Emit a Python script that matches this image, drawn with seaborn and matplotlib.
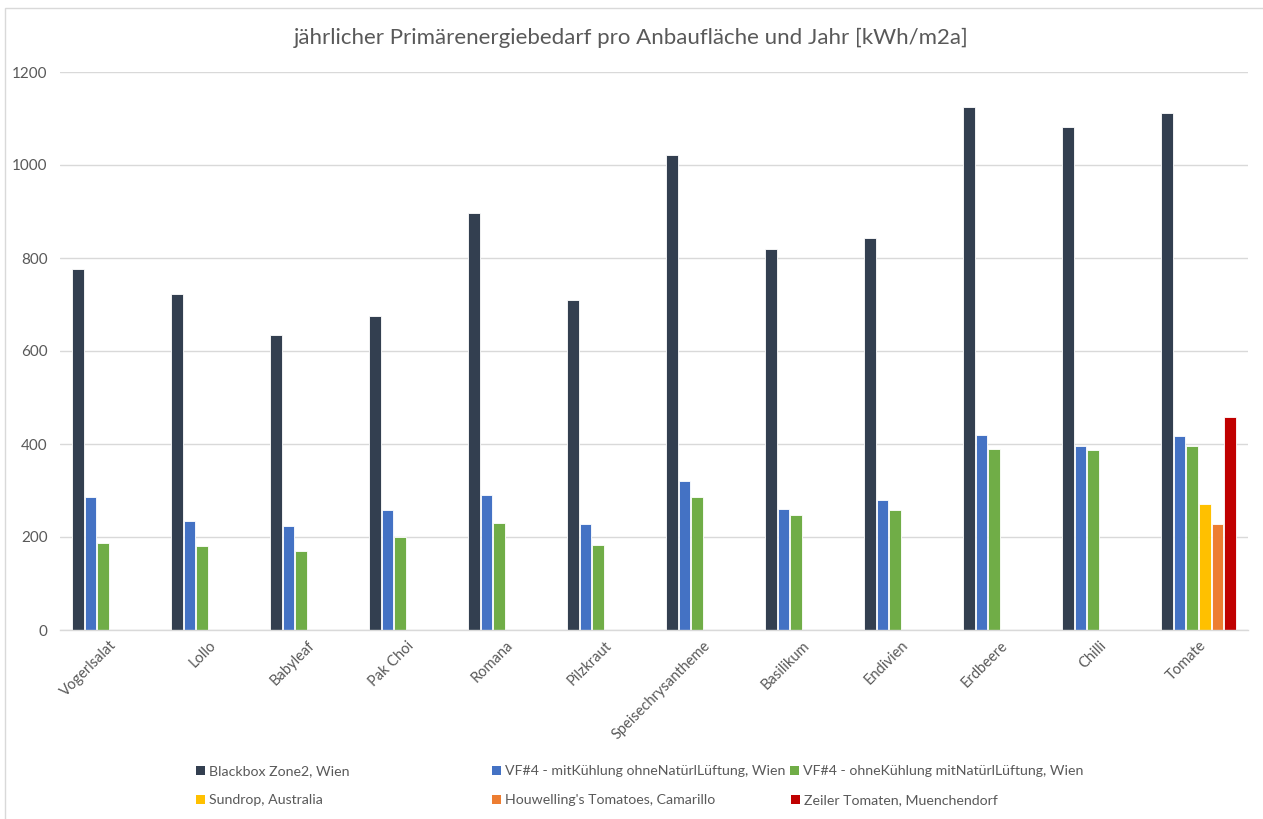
import matplotlib
matplotlib.use("Agg")
import matplotlib.pyplot as plt
from matplotlib.patches import Rectangle, Patch
import numpy as np
import pandas as pd
import seaborn as sns

categories = ["Vogerlsalat", "Lollo", "Babyleaf", "Pak Choi", "Romana", "Pilzkraut",
              "Speisechrysantheme", "Basilikum", "Endivien", "Erdbeere", "Chilli", "Tomate"]

series_names = ["Blackbox Zone2, Wien",
                "VF#4 - mitKühlung ohneNatürlLüftung, Wien",
                "VF#4 - ohneKühlung mitNatürlLüftung, Wien",
                "Sundrop, Australia",
                "Houwelling's Tomatoes, Camarillo",
                "Zeiler Tomaten, Muenchendorf"]

blackbox = [776, 723, 634, 675, 897, 710, 1021, 819, 843, 1125, 1082, 1112]
vf4_kuehlung = [286, 234, 224, 258, 290, 228, 320, 260, 280, 419, 396, 417]
vf4_lueftung = [187, 181, 170, 200, 230, 183, 286, 247, 258, 389, 387, 395]
sundrop = [np.nan] * 11 + [270]
houwelling = [np.nan] * 11 + [229]
zeiler = [np.nan] * 11 + [458]

colors = ["#333F50", "#4472C4", "#70AD47", "#FFC000", "#ED7D31", "#C00000"]
yticks = [0, 200, 400, 600, 800, 1000, 1200]

# long-form table for seaborn
frames = []
for name, vals in zip(series_names, [blackbox, vf4_kuehlung, vf4_lueftung, sundrop, houwelling, zeiler]):
    frames.append(pd.DataFrame({"Kultur": categories, "Serie": name, "Wert": vals}))
df = pd.concat(frames, ignore_index=True)

sns.set_theme(style="white")
plt.rcParams["font.family"] = ["Lato", "DejaVu Sans"]

W, H = 1263, 819
fig = plt.figure(figsize=(W / 100, H / 100), dpi=100)
ax = fig.add_axes([60 / W, 1 - 630 / H, 1188 / W, 558 / H])

sns.barplot(data=df, x="Kultur", y="Wert", hue="Serie", order=categories,
            hue_order=series_names, palette=colors, saturation=1, width=0.77, gap=0.08,
            edgecolor="white", linewidth=0.6, ax=ax, legend=False)

ax.set_ylim(0, 1200)
ax.set_xlim(-0.5, len(categories) - 0.5)
ax.set_yticks(yticks)
ax.set_yticklabels([str(t) for t in yticks])
ax.yaxis.grid(True, color="#D9D9D9", linewidth=1)
ax.set_axisbelow(True)
ax.set_xlabel("")
ax.set_ylabel("")
for side in ["left", "right", "top"]:
    ax.spines[side].set_visible(False)
ax.spines["bottom"].set_color("#D9D9D9")
ax.spines["bottom"].set_linewidth(1)
ax.tick_params(axis="y", length=0, pad=9, labelsize=11, labelcolor="#595959")
ax.tick_params(axis="x", length=0, pad=6, labelsize=10.5, labelcolor="#595959")
plt.setp(ax.get_xticklabels(), rotation=45, ha="right", rotation_mode="anchor")

fig.text(0.5, 1 - 38 / H, "jährlicher Primärenergiebedarf pro Anbaufläche und Jahr [kWh/m2a]",
         ha="center", va="center", fontsize=16, color="#595959")

# chart frame
fig.patches.append(Rectangle((5 / W, -0.01), 1.02, 1 - 8 / H + 0.01, transform=fig.transFigure,
                             fill=False, edgecolor="#D9D9D9", linewidth=1))

# legend entries placed individually, two rows
legend_pos = [(196, 771), (492, 771), (790, 771), (196, 800), (492, 800), (791, 800)]
for name, col, (lx, ly) in zip(series_names, colors, legend_pos):
    fig.legend(handles=[Patch(facecolor=col, edgecolor="none")], labels=[name],
               loc="center left", bbox_to_anchor=(lx / W, 1 - ly / H), frameon=False,
               handlelength=0.6, handleheight=0.6, handletextpad=0.3, borderpad=0,
               borderaxespad=0, fontsize=10.2, labelcolor="#595959")

fig.savefig("out.png", dpi=100, facecolor="white")
